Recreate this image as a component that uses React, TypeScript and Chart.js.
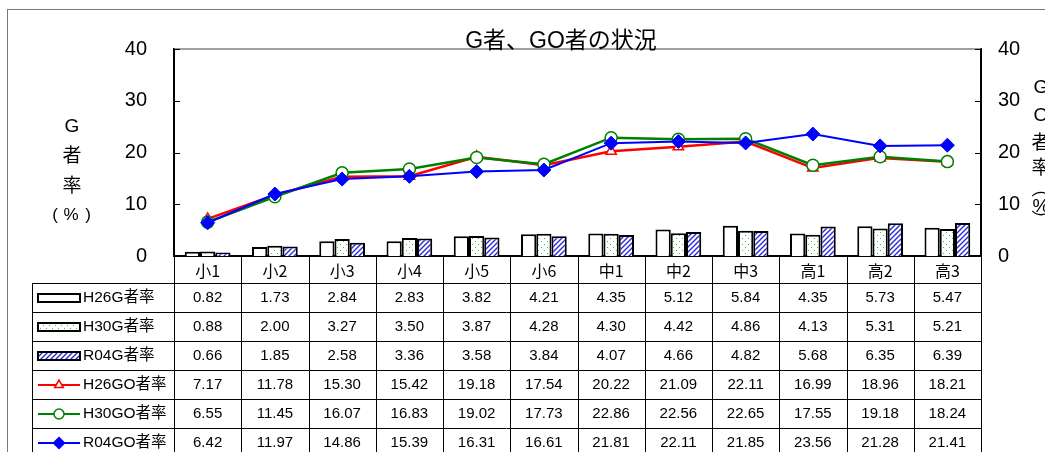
import React, { useEffect, useRef } from 'react';
import { Chart, registerables } from 'chart.js';

Chart.register(...registerables);

const categories = ['小1', '小2', '小3', '小4', '小5', '小6', '中1', '中2', '中3', '高1', '高2', '高3'];
const seriesNames = ['H26G者率', 'H30G者率', 'R04G者率', 'H26GO者率', 'H30GO者率', 'R04GO者率'];
const h26G = [0.82, 1.73, 2.84, 2.83, 3.82, 4.21, 4.35, 5.12, 5.84, 4.35, 5.73, 5.47];
const h30G = [0.88, 2.0, 3.27, 3.5, 3.87, 4.28, 4.3, 4.42, 4.86, 4.13, 5.31, 5.21];
const r04G = [0.66, 1.85, 2.58, 3.36, 3.58, 3.84, 4.07, 4.66, 4.82, 5.68, 6.35, 6.39];
const h26GO = [7.17, 11.78, 15.3, 15.42, 19.18, 17.54, 20.22, 21.09, 22.11, 16.99, 18.96, 18.21];
const h30GO = [6.55, 11.45, 16.07, 16.83, 19.02, 17.73, 22.86, 22.56, 22.65, 17.55, 19.18, 18.24];
const r04GO = [6.42, 11.97, 14.86, 15.39, 16.31, 16.61, 21.81, 22.11, 21.85, 23.56, 21.28, 21.41];
const yTicks = [0, 10, 20, 30, 40];
const chartTitle = 'G者、GO者の状況';
const leftTitle = ['G', '者', '率'];
const rightTitle = ['G', 'O', '者', '率', '︵', '%', '︶'];

const FONT = '"Liberation Sans", "Noto Sans CJK JP", sans-serif';
const RED = '#FF0000';
const GREEN = '#008000';
const BLUE = '#0000FF';

function makeDots(): CanvasPattern | string {
  const c = document.createElement('canvas');
  c.width = 6;
  c.height = 6;
  const g = c.getContext('2d');
  if (!g) return '#fff';
  g.fillStyle = '#fff';
  g.fillRect(0, 0, 6, 6);
  g.fillStyle = '#33C433';
  g.fillRect(1, 1, 1, 1);
  g.fillRect(4, 4, 1, 1);
  return g.createPattern(c, 'repeat') || '#fff';
}

function makeHatch(): CanvasPattern | string {
  const c = document.createElement('canvas');
  const s = 5;
  c.width = s;
  c.height = s;
  const g = c.getContext('2d');
  if (!g) return '#fff';
  g.fillStyle = '#fff';
  g.fillRect(0, 0, s, s);
  g.strokeStyle = '#2A2AD8';
  g.lineWidth = 1.4;
  g.beginPath();
  g.moveTo(0, s);
  g.lineTo(s, 0);
  g.moveTo(-s / 2, s / 2);
  g.lineTo(s / 2, -s / 2);
  g.moveTo(s / 2, s * 1.5);
  g.lineTo(s * 1.5, s / 2);
  g.stroke();
  return g.createPattern(c, 'repeat') || '#fff';
}

function drawMarker(ctx: CanvasRenderingContext2D, style: string, x: number, y: number, r: number, fill: string, stroke: string) {
  ctx.save();
  ctx.beginPath();
  if (style === 'triangle') {
    ctx.moveTo(x, y - r);
    ctx.lineTo(x + r * 0.866, y + r * 0.5);
    ctx.lineTo(x - r * 0.866, y + r * 0.5);
    ctx.closePath();
  } else if (style === 'circle') {
    ctx.arc(x, y, r, 0, Math.PI * 2);
  } else {
    ctx.moveTo(x, y - r);
    ctx.lineTo(x + r, y);
    ctx.lineTo(x, y + r);
    ctx.lineTo(x - r, y);
    ctx.closePath();
  }
  ctx.fillStyle = fill;
  ctx.fill();
  ctx.strokeStyle = stroke;
  ctx.lineWidth = 1.5;
  ctx.stroke();
  ctx.restore();
}

export default function App() {
  const ref = useRef<HTMLCanvasElement>(null);

  useEffect(() => {
    const canvas = ref.current;
    if (!canvas) return;
    const dots = makeDots();
    const hatch = makeHatch();
    const barFills: (string | CanvasPattern)[] = ['#fff', dots, hatch];
    const lineColors = [RED, GREEN, BLUE];
    const lineStyles = ['triangle', 'circle', 'rectRot'];
    const tableData = [h26G, h30G, r04G, h26GO, h30GO, r04GO];

    const decor = {
      id: 'decor',
      afterDraw(chart: any) {
        const ctx: CanvasRenderingContext2D = chart.ctx;
        const { left, right, top, bottom } = chart.chartArea;
        const yScale = chart.scales.y;
        ctx.save();

        // outer frame
        ctx.strokeStyle = '#7a7a7a';
        ctx.lineWidth = 1;
        ctx.strokeRect(7.5, 9.5, 1100, 500);

        // plot top border
        ctx.strokeStyle = '#808080';
        ctx.lineWidth = 1.5;
        ctx.beginPath();
        ctx.moveTo(left, top);
        ctx.lineTo(right, top);
        ctx.stroke();

        // inner tick marks
        ctx.strokeStyle = '#000';
        ctx.lineWidth = 1;
        ctx.beginPath();
        yTicks.forEach((v) => {
          const py = Math.round(yScale.getPixelForValue(v)) + 0.5;
          ctx.moveTo(left, py);
          ctx.lineTo(left + 6, py);
          ctx.moveTo(right - 6, py);
          ctx.lineTo(right, py);
        });
        ctx.stroke();

        // title
        ctx.fillStyle = '#000';
        ctx.textAlign = 'center';
        ctx.textBaseline = 'middle';
        ctx.font = `23px ${FONT}`;
        ctx.fillText(chartTitle, 561, 42);

        // left axis title
        ctx.font = `19px ${FONT}`;
        const ly = [127, 157, 187];
        leftTitle.forEach((t, i) => ctx.fillText(t, 72, ly[i]));
        ctx.font = `17px ${FONT}`;
        ctx.fillText('(', 55, 215);
        ctx.fillText('%', 71, 215);
        ctx.fillText(')', 88, 215);

        // right axis title
        ctx.font = `19px ${FONT}`;
        const ry = [88, 116, 144, 169, 190, 207, 222];
        rightTitle.forEach((t, i) => ctx.fillText(t, 1041, ry[i]));

        // table
        const n = categories.length;
        const cw = (right - left) / n;
        const headerTop = bottom;
        const headerBottom = 283;
        const rowH = 29;
        const tableLeft = 32;
        const tableBottom = 460;

        ctx.strokeStyle = '#000';
        ctx.lineWidth = 1;
        ctx.beginPath();
        for (let k = 1; k <= n; k++) {
          const px = Math.round(left + k * cw) + 0.5;
          ctx.moveTo(px, headerTop);
          ctx.lineTo(px, tableBottom);
        }
        ctx.moveTo(left + 0.5, headerTop);
        ctx.lineTo(left + 0.5, tableBottom);
        ctx.moveTo(tableLeft + 0.5, headerBottom);
        ctx.lineTo(tableLeft + 0.5, tableBottom);
        for (let r = 0; r <= 6; r++) {
          const py = headerBottom + r * rowH + 0.5;
          ctx.moveTo(tableLeft, py);
          ctx.lineTo(right, py);
        }
        ctx.stroke();

        // header labels
        ctx.fillStyle = '#000';
        ctx.font = `16px "Noto Sans CJK JP", sans-serif`;
        categories.forEach((c, i) => {
          ctx.fillText(c, left + (i + 0.5) * cw, (headerTop + headerBottom) / 2 + 1);
        });

        // rows
        tableData.forEach((vals, r) => {
          const cy = headerBottom + r * rowH + rowH / 2 + 0.5;
          ctx.font = `15px ${FONT}`;
          ctx.textAlign = 'center';
          vals.forEach((v, i) => {
            ctx.fillText(v.toFixed(2), left + (i + 0.5) * cw, cy);
          });
          // legend key
          if (r < 3) {
            ctx.fillStyle = barFills[r] as any;
            ctx.fillRect(38, cy - 4, 42, 8);
            ctx.strokeStyle = '#000';
            ctx.lineWidth = 2;
            ctx.strokeRect(38, cy - 4, 42, 8);
          } else {
            const col = lineColors[r - 3];
            ctx.strokeStyle = col;
            ctx.lineWidth = 2;
            ctx.beginPath();
            ctx.moveTo(38, cy);
            ctx.lineTo(80, cy);
            ctx.stroke();
            const st = lineStyles[r - 3];
            drawMarker(ctx, st, 59, cy, st === 'rectRot' ? 5.5 : 5, st === 'rectRot' ? BLUE : '#fff', col);
          }
          ctx.fillStyle = '#000';
          ctx.textAlign = 'left';
          ctx.font = `15.5px ${FONT}`;
          ctx.fillText(seriesNames[r], 83, cy);
          ctx.textAlign = 'center';
        });

        ctx.restore();
      },
    };

    const tickFont = { family: FONT, size: 20 };

    const chart = new Chart(canvas, {
      type: 'bar',
      data: {
        labels: categories,
        datasets: [
          { type: 'bar', label: seriesNames[0], data: h26G, backgroundColor: barFills[0] as any, borderColor: '#000', borderWidth: 2, yAxisID: 'y', order: 3, categoryPercentage: 0.68, barPercentage: 1 },
          { type: 'bar', label: seriesNames[1], data: h30G, backgroundColor: barFills[1] as any, borderColor: '#000', borderWidth: 2, yAxisID: 'y', order: 4, categoryPercentage: 0.68, barPercentage: 1 },
          { type: 'bar', label: seriesNames[2], data: r04G, backgroundColor: barFills[2] as any, borderColor: '#000', borderWidth: 2, yAxisID: 'y', order: 5, categoryPercentage: 0.68, barPercentage: 1 },
          { type: 'line', label: seriesNames[3], data: h26GO, borderColor: RED, borderWidth: 2.5, pointStyle: 'triangle', pointRadius: 6, pointBackgroundColor: '#fff', pointBorderColor: RED, pointBorderWidth: 1.5, yAxisID: 'y1', order: 2, tension: 0 },
          { type: 'line', label: seriesNames[4], data: h30GO, borderColor: GREEN, borderWidth: 2.5, pointStyle: 'circle', pointRadius: 6, pointBackgroundColor: '#fff', pointBorderColor: GREEN, pointBorderWidth: 1.5, yAxisID: 'y1', order: 1, tension: 0 },
          { type: 'line', label: seriesNames[5], data: r04GO, borderColor: BLUE, borderWidth: 2, pointStyle: 'rectRot', pointRadius: 7, pointBackgroundColor: BLUE, pointBorderColor: BLUE, pointBorderWidth: 1, yAxisID: 'y1', order: 0, tension: 0 },
        ] as any,
      },
      options: {
        responsive: false,
        animation: false,
        devicePixelRatio: 1,
        layout: { padding: { top: 49, left: 0, right: 0, bottom: 0 } },
        plugins: {
          legend: { display: false },
          tooltip: { enabled: false },
          title: { display: false },
        },
        scales: {
          x: {
            grid: { display: false, drawTicks: false },
            border: { display: true, color: '#000', width: 2 },
            ticks: { display: false },
            afterFit: (s: any) => { s.height = 196; },
          },
          y: {
            position: 'left',
            min: 0,
            max: 40,
            ticks: { stepSize: 10, color: '#000', font: tickFont, padding: 27 },
            grid: { display: false, drawTicks: false },
            border: { display: true, color: '#000', width: 2 },
            afterFit: (s: any) => { s.width = 174; },
          },
          y1: {
            position: 'right',
            min: 0,
            max: 40,
            ticks: { stepSize: 10, color: '#000', font: tickFont, padding: 17 },
            grid: { display: false, drawTicks: false },
            border: { display: true, color: '#000', width: 2 },
            afterFit: (s: any) => { s.width = 64; },
          },
        },
      } as any,
      plugins: [decor],
    });

    return () => chart.destroy();
  }, []);

  return (
    <div style={{ position: 'fixed', left: 0, top: 0, width: 1045, height: 452, background: '#fff' }}>
      <canvas ref={ref} width={1045} height={452} style={{ display: 'block' }} />
    </div>
  );
}
